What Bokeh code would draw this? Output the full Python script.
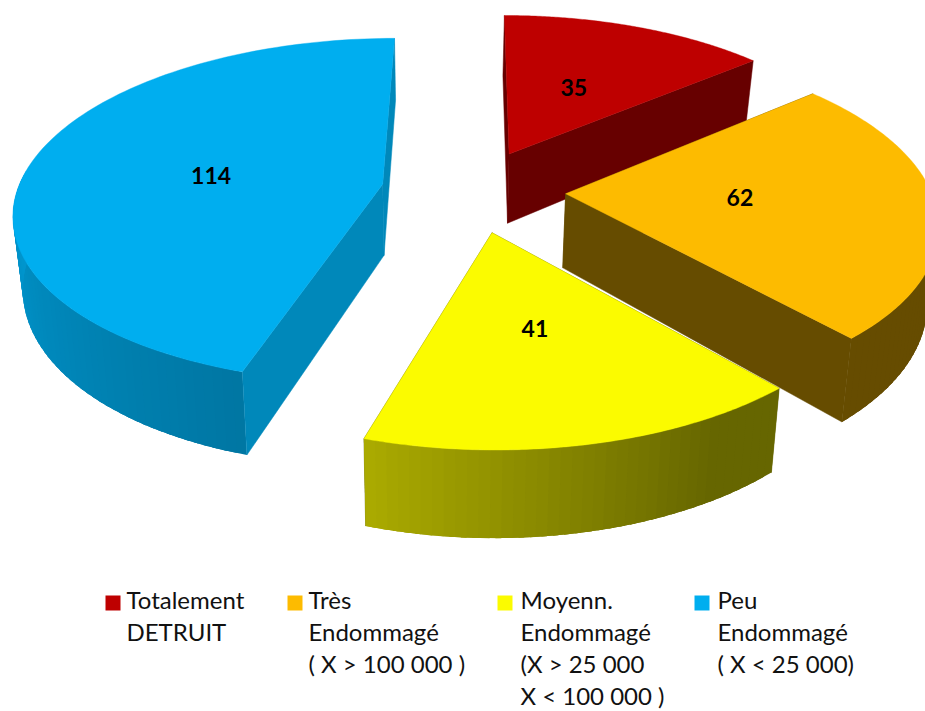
import math
from bokeh.embed import file_html
from bokeh.models import Range1d
from bokeh.plotting import figure
from bokeh.resources import INLINE
from bokeh.core.properties import value

# ---- data ----
categories = ["Totalement DETRUIT", "Très Endommagé", "Moyenn. Endommagé", "Peu Endommagé"]
values = [35, 62, 41, 114]
top_colors = ["#BE0000", "#FDBB00", "#FBFB00", "#00AEEF"]
legend_lines = [
    ["Totalement", "DETRUIT"],
    ["Très", "Endommagé", "( X > 100 000 )"],
    ["Moyenn.", "Endommagé", "(X > 25 000", "X < 100 000 )"],
    ["Peu", "Endommagé", "( X < 25 000)"],
]

# ---- layout of the perspective view ----
W, H = 925, 711
CX, CY = 472.0, 190.0
FX, FY = 2400.0, 1116.0
DIST = 6.57
EXPLODES = [0.245, 0.255, 0.245, 0.25]
DEPTHS = [470.0, 485.0, 470.0, 470.0]
RADIUS = 1.0
VP_X, CONVERGE = 440.0, 0.977
WALL_FACTOR = [0.54, 0.405, 0.404, 0.78]
LABEL_NUDGE = [(-3, 1), (-10, -3), (-2, -1), (5, 4)]
LEGEND_SWATCH_X = [105, 287, 497, 694]
LEGEND_TEXT_X = [126, 308, 520, 717]
LEGEND_BASE_Y, LEGEND_STEP = 609, 32
SWATCH_SIZE = 15
TEXT_BASE_SHIFT = -10


def ground(theta_deg, r, mid_deg, ex):
    t, m = math.radians(theta_deg), math.radians(mid_deg)
    return ex * math.sin(m) + r * math.sin(t), ex * math.cos(m) + r * math.cos(t)


def top_pt(theta, r, mid, ex):
    X, Y = ground(theta, r, mid, ex)
    return CX + FX * X / (DIST + Y), CY - FY * Y / (DIST + Y)


def bot_pt(theta, r, mid, ex, depth):
    X, Y = ground(theta, r, mid, ex)
    x = CX + FX * X / (DIST + Y)
    y = CY - FY * Y / (DIST + Y) + depth / (DIST + Y)
    return VP_X + (x - VP_X) * CONVERGE, y


def shade(theta):
    th = theta % 360
    if th <= 150:
        return 0.405
    if th <= 197:
        return 0.405 + (th - 150) / 47 * 0.275
    return min(0.68 + (th - 197) / 73 * 0.19, 0.87)


def scaled(color, k):
    r, g, b = (int(color[i:i + 2], 16) for i in (1, 3, 5))
    return "#%02x%02x%02x" % (round(r * k), round(g * k), round(b * k))


def wall(a, b, mid, ex, depth, ra=RADIUS, rb=RADIUS):
    pts = [top_pt(a, ra, mid, ex), top_pt(b, rb, mid, ex),
           bot_pt(b, rb, mid, ex, depth), bot_pt(a, ra, mid, ex, depth)]
    return [q[0] for q in pts], [q[1] for q in pts]


p = figure(width=W, height=H, x_range=Range1d(0, W), y_range=Range1d(H, 0),
           output_backend="svg", toolbar_location=None, min_border=0,
           background_fill_color="white", border_fill_color="white", outline_line_color=None)
p.axis.visible = False
p.grid.visible = False
p.styles = {"position": "absolute", "left": "0px", "top": "0px"}

total = sum(values)
start = 0.0
label_x, label_y = [], []
for val, col, wf, nudge, ex, depth in zip(values, top_colors, WALL_FACTOR, LABEL_NUDGE, EXPLODES, DEPTHS):
    end = start + val / total * 360
    mid = (start + end) / 2
    dark = scaled(col, wf)
    start_front = math.sin(math.radians(start)) <= 1e-9
    end_front = math.sin(math.radians(end)) >= -1e-9
    inner = [(start, start_front), (end, end_front)]

    def draw_inner(front):
        for ang, is_front in inner:
            if is_front == front:
                xs, ys = wall(ang, ang, mid, ex, depth, 0.0, RADIUS)
                p.patch(xs, ys, fill_color=dark, line_color=dark, line_width=0.5)

    draw_inner(False)
    # outer wall: front-facing strips, each overlapping the next so no seam shows
    n = max(2, int((end - start) / 1.5))
    step = (end - start) / n
    for i in range(n):
        a = start + step * i
        b = min(a + 2.5 * step, end)
        if math.cos(math.radians(a + step / 2)) > 0.05:
            continue
        xs, ys = wall(a, b, mid, ex, depth)
        c = scaled(col, shade(a + step / 2))
        p.patch(xs, ys, fill_color=c, line_color=None)
    draw_inner(True)
    # top face
    arc = [top_pt(start + (end - start) * i / 120, RADIUS, mid, ex) for i in range(121)]
    apex = top_pt(0, 0.0, mid, ex)
    pts = [apex] + arc
    p.patch([q[0] for q in pts], [q[1] for q in pts], fill_color=col, line_color=col, line_width=0.4)
    lx, ly = top_pt(mid, 0.5, mid, ex)
    label_x.append(lx + nudge[0])
    label_y.append(ly + nudge[1])
    start = end

p.text(label_x, label_y, text=[str(v) for v in values], text_font=value("Lato"),
       text_font_style="bold", text_font_size="23px", text_color="black",
       text_align="center", text_baseline="middle")

# legend
for sw_x, tx, lines, col in zip(LEGEND_SWATCH_X, LEGEND_TEXT_X, legend_lines, top_colors):
    p.rect([sw_x + SWATCH_SIZE / 2], [610 - SWATCH_SIZE / 2], width=SWATCH_SIZE,
           height=SWATCH_SIZE, fill_color=col, line_color=None)
    ys = [LEGEND_BASE_Y + TEXT_BASE_SHIFT + i * LEGEND_STEP for i in range(len(lines))]
    p.text([tx] * len(lines), ys, text=lines, text_font=value("Lato"), text_font_size="24px",
           text_color="#111111", text_align="left", text_baseline="alphabetic")

open("out.html", "w").write(file_html(p, INLINE))
